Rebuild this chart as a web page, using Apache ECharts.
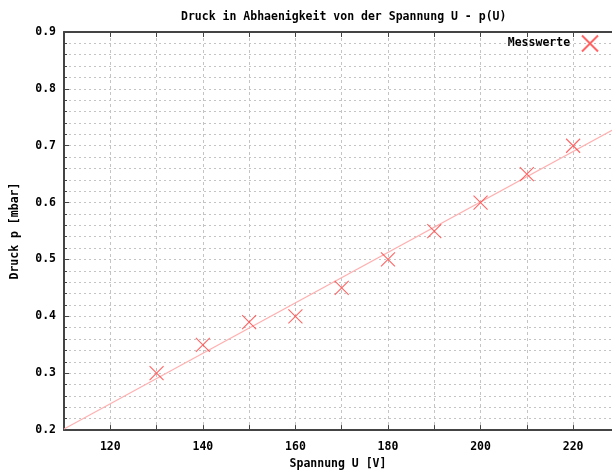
<!DOCTYPE html>
<html>
<head>
<meta charset="utf-8">
<script src="https://cdn.jsdelivr.net/npm/echarts@6/dist/echarts.min.js"></script>
<style>
  html, body { margin: 0; padding: 0; background: #fff; }
  #chart { width: 612px; height: 475px; }
</style>
</head>
<body>
<div id="chart"></div>
<script>
// Messwerte
const spannung = [130, 140, 150, 160, 170, 180, 190, 200, 210, 220]
const druck = [0.30, 0.35, 0.39, 0.40, 0.45, 0.50, 0.55, 0.60, 0.65, 0.70]
// Ausgleichsgerade, Endpunkte
const fitU = [110, 228.4]
const fitP = [0.202, 0.727]

const font = 'DejaVu Sans Mono'
const fs = 11.5
const crossPath = 'path://M0,0L10,10M10,0L0,10'

const chart = echarts.init(document.getElementById('chart'))

const txt = { fontFamily: font, fontSize: fs, fontWeight: 'bold', color: '#000' }

const option = {
  animation: false,
  backgroundColor: '#fff',
  title: {
    text: 'Druck in Abhaenigkeit von der Spannung U - p(U)',
    left: 176,
    top: 6,
    textStyle: txt
  },
  legend: {
    right: 8,
    top: 29,
    align: 'right',
    itemWidth: 16,
    itemHeight: 16,
    data: [{ name: 'Messwerte', icon: crossPath }],
    formatter: name => name + ' ',
    textStyle: Object.assign({}, txt, { lineHeight: 16, padding: [3, 0, 0, 0] })
  },
  grid: {
    left: 64,
    top: 32,
    right: 0,
    bottom: 43
  },
  xAxis: [
    {
      type: 'value',
      min: 110,
      max: 228.4,
      interval: 10,
      name: 'Spannung U [V]',
      nameLocation: 'middle',
      nameGap: 27,
      nameTextStyle: txt,
      axisLine: { show: true, lineStyle: { color: '#444', width: 2 } },
      axisTick: { show: true, inside: true, length: 5, lineStyle: { color: '#444' } },
      axisLabel: Object.assign({}, txt, {
        margin: 11,
        showMaxLabel: false,
        formatter: v => (v % 20 === 0 ? String(v) : '')
      }),
      splitLine: { show: true, lineStyle: { color: '#c4c4c4', type: [3, 3], width: 1 } }
    },
    {
      type: 'value',
      position: 'top',
      min: 110,
      max: 228.4,
      interval: 10,
      axisLine: { show: true, lineStyle: { color: '#444', width: 2 } },
      axisTick: { show: true, inside: true, length: 5, lineStyle: { color: '#444' } },
      axisLabel: { show: false },
      splitLine: { show: false }
    }
  ],
  yAxis: {
    type: 'value',
    min: 0.2,
    max: 0.9,
    interval: 0.1,
    name: 'Druck p [mbar]',
    nameLocation: 'middle',
    nameGap: 43,
    nameTextStyle: txt,
    axisLine: { show: true, lineStyle: { color: '#444', width: 2 } },
    axisTick: { show: true, inside: true, length: 5, lineStyle: { color: '#444' } },
    minorTick: { show: true, splitNumber: 5, length: 3, lineStyle: { color: '#444' } },
    axisLabel: Object.assign({}, txt, { margin: 8, formatter: v => v.toFixed(1) }),
    splitLine: { show: true, lineStyle: { color: '#c4c4c4', type: [2, 3], width: 1 } },
    minorSplitLine: { show: true, lineStyle: { color: '#c4c4c4', type: [2, 3], width: 1 } }
  },
  series: [
    {
      name: 'Ausgleich',
      type: 'line',
      data: fitU.map((u, i) => [u, fitP[i]]),
      showSymbol: false,
      silent: true,
      lineStyle: { color: '#ffb0b0', width: 1.2 },
      z: 2
    },
    {
      name: 'Messwerte',
      type: 'scatter',
      data: spannung.map((u, i) => [u, druck[i]]),
      symbol: crossPath,
      symbolSize: 14,
      itemStyle: { color: 'rgba(0,0,0,0)', borderColor: '#ff4040', borderWidth: 1.1 },
      z: 3
    }
  ]
}

chart.setOption(option)
</script>
</body>
</html>
